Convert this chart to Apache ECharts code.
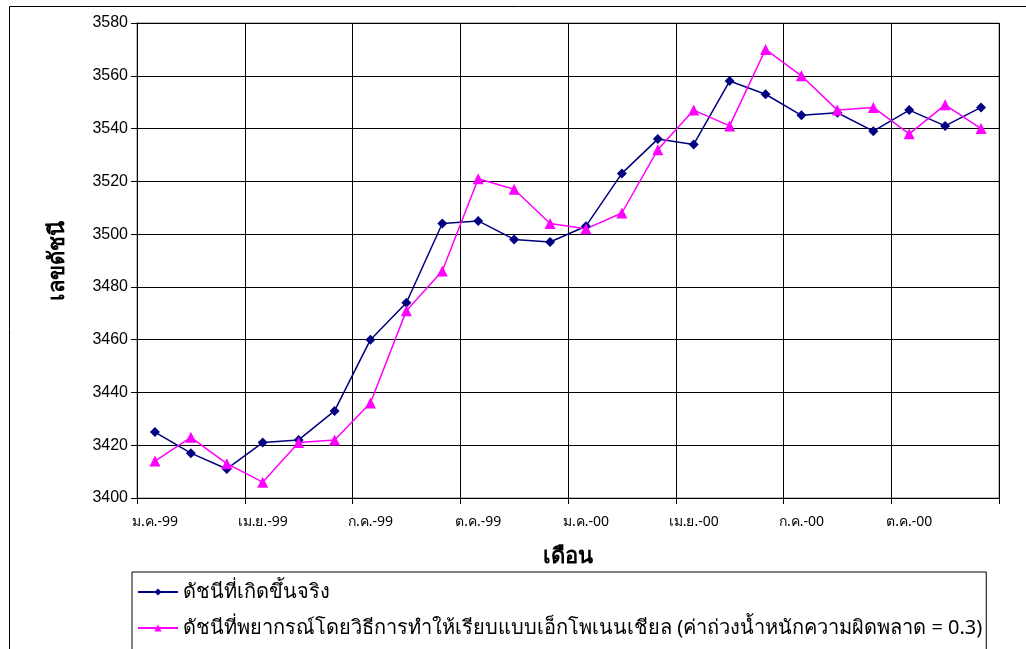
<!DOCTYPE html>
<html>
<head>
<meta charset="utf-8">
<script src="https://cdn.jsdelivr.net/npm/echarts@6/dist/echarts.min.js"></script>
<style>
html,body{margin:0;padding:0;background:#fff;}
#chart{width:1026px;height:649px;}
</style>
</head>
<body>
<div id="chart"></div>
<script>
const categories = [
  'ม.ค.-99','ก.พ.-99','มี.ค.-99','เม.ย.-99','พ.ค.-99','มิ.ย.-99',
  'ก.ค.-99','ส.ค.-99','ก.ย.-99','ต.ค.-99','พ.ย.-99','ธ.ค.-99',
  'ม.ค.-00','ก.พ.-00','มี.ค.-00','เม.ย.-00','พ.ค.-00','มิ.ย.-00',
  'ก.ค.-00','ส.ค.-00','ก.ย.-00','ต.ค.-00','พ.ย.-00','ธ.ค.-00'
];
const actualName = 'ดัชนีที่เกิดขึ้นจริง';
const forecastName = 'ดัชนีที่พยากรณ์โดยวิธีการทำให้เรียบแบบเอ็กโพเนนเชียล (ค่าถ่วงน้ำหนักความผิดพลาด = 0.3)';
const actualValues = [3425, 3417, 3411, 3421, 3422, 3433, 3460, 3474, 3504, 3505, 3498, 3497,
                      3503, 3523, 3536, 3534, 3558, 3553, 3545, 3546, 3539, 3547, 3541, 3548];
const forecastValues = [3414, 3423, 3413, 3406, 3421, 3422, 3436, 3471, 3486, 3521, 3517, 3504,
                        3502, 3508, 3532, 3547, 3541, 3570, 3560, 3547, 3548, 3538, 3549, 3540];
const yMin = 3400, yMax = 3580, yStep = 20;
const yTitle = 'เลขดัชนี';
const xTitle = 'เดือน';

const chart = echarts.init(document.getElementById('chart'));
chart.setOption({
  backgroundColor: '#fff',
  animation: false,
  graphic: [{
    type: 'rect', silent: true, z: -10,
    shape: {x: 9.5, y: 6.5, width: 1100, height: 700},
    style: {fill: 'none', stroke: '#000', lineWidth: 1}
  }],
  grid: {left: 137, right: 27, top: 23, bottom: 151, show: true, borderColor: '#808080', borderWidth: 1},
  legend: {
    orient: 'vertical', left: 132, top: 572, height: 200,
    itemWidth: 40, itemHeight: 9, itemGap: 16,
    borderColor: '#000', borderWidth: 1,
    padding: [10, 4, 30, 5],
    textStyle: {fontSize: 20, color: '#000', fontFamily: 'Noto Sans, sans-serif'},
    data: [actualName, forecastName]
  },
  xAxis: {
    type: 'category', data: categories, boundaryGap: true,
    name: xTitle, nameLocation: 'middle', nameGap: 48,
    nameTextStyle: {fontSize: 22, fontWeight: 'bold', color: '#000', fontFamily: 'Noto Sans, sans-serif'},
    axisLine: {lineStyle: {color: '#000', width: 1}},
    axisTick: {show: true, interval: 2, length: 6, lineStyle: {color: '#000'}},
    axisLabel: {interval: 2, color: '#000', fontSize: 14, margin: 17, fontFamily: 'Noto Sans, sans-serif'},
    splitLine: {show: true, interval: 2, lineStyle: {color: '#000', width: 1}}
  },
  yAxis: {
    type: 'value', min: yMin, max: yMax, interval: yStep,
    name: yTitle, nameLocation: 'middle', nameGap: 68, nameRotate: 90,
    nameTextStyle: {fontSize: 22, fontWeight: 'bold', color: '#000', fontFamily: 'Noto Sans, sans-serif'},
    axisLine: {show: true, lineStyle: {color: '#000', width: 1}},
    axisTick: {show: true, length: 6, lineStyle: {color: '#000'}},
    axisLabel: {color: '#000', fontSize: 16, margin: 9, fontFamily: 'Liberation Sans, Arial, sans-serif',
                formatter: v => String(v)},
    splitLine: {show: true, lineStyle: {color: '#000', width: 1}}
  },
  series: [
    {
      name: actualName, type: 'line', data: actualValues,
      symbol: 'diamond', symbolSize: 10, showAllSymbol: true,
      itemStyle: {color: '#000080'}, lineStyle: {color: '#000080', width: 1.5}
    },
    {
      name: forecastName, type: 'line', data: forecastValues,
      symbol: 'triangle', symbolSize: 11, showAllSymbol: true,
      itemStyle: {color: '#FF00FF'}, lineStyle: {color: '#FF00FF', width: 1.5}
    }
  ]
});
</script>
</body>
</html>
